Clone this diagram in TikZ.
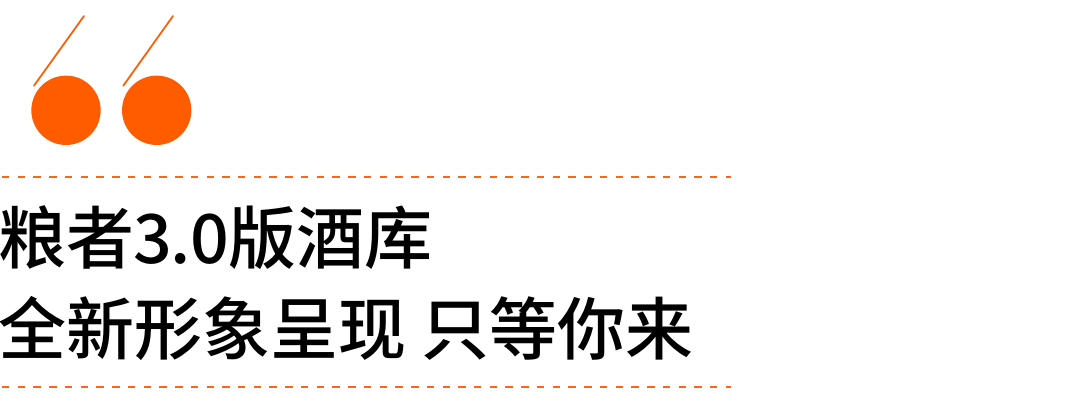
\documentclass[tikz,border=0pt]{standalone}
\usepackage{fontspec}
\newfontfamily\cjk{Noto Sans CJK SC Medium}
\definecolor{orangeA}{HTML}{FF5C00}
\definecolor{ruleorange}{HTML}{F9651E}
\tikzset{
 px/.style={x=0.75pt,y=-0.75pt},
 dot/.style={circle,fill=orangeA,draw=none,minimum size=52pt,inner sep=0pt},
 tick/.style={draw=orangeA,line width=1.3pt,line cap=round},
 rulerline/.style={draw=ruleorange,line width=1pt,dash pattern=on 5.6pt off 6.2pt},
 headline/.style={anchor=base west,inner sep=0pt,font=\cjk\fontsize{51pt}{51pt}\selectfont,text=black},
}
\begin{document}
\begin{tikzpicture}[px]
\useasboundingbox (0,0) rectangle (1080,408);
\fill[white] (0,0) rectangle (1080,408);
\node[dot] (d1) at (66,110.3) {};
\node[dot] (d2) at (156.7,110.3) {};
\coordinate (t1a) at (84,16);
\coordinate (t1b) at (34,85.7);
\coordinate (t2a) at (173,16);
\coordinate (t2b) at (123.3,85.7);
\draw[tick] (t1a) -- (t1b);
\draw[tick] (t2a) -- (t2b);
\coordinate (r1a) at (2,177);
\coordinate (r1b) at (731,177);
\coordinate (r2a) at (2,387);
\coordinate (r2b) at (731,387);
\draw[rulerline,color=ruleorange] (r1a) -- (r1b);
\draw[rulerline,color=ruleorange] (r2a) -- (r2b);
\node[headline] (l1) at (-2,263) {粮者\kern-0.8pt 3\kern-0.8pt .\kern-0.8pt 0\kern-0.6pt 版酒库};
\node[headline] (l2) at (-2,354) {全新形象呈现 只等你来};
\end{tikzpicture}
\end{document}
